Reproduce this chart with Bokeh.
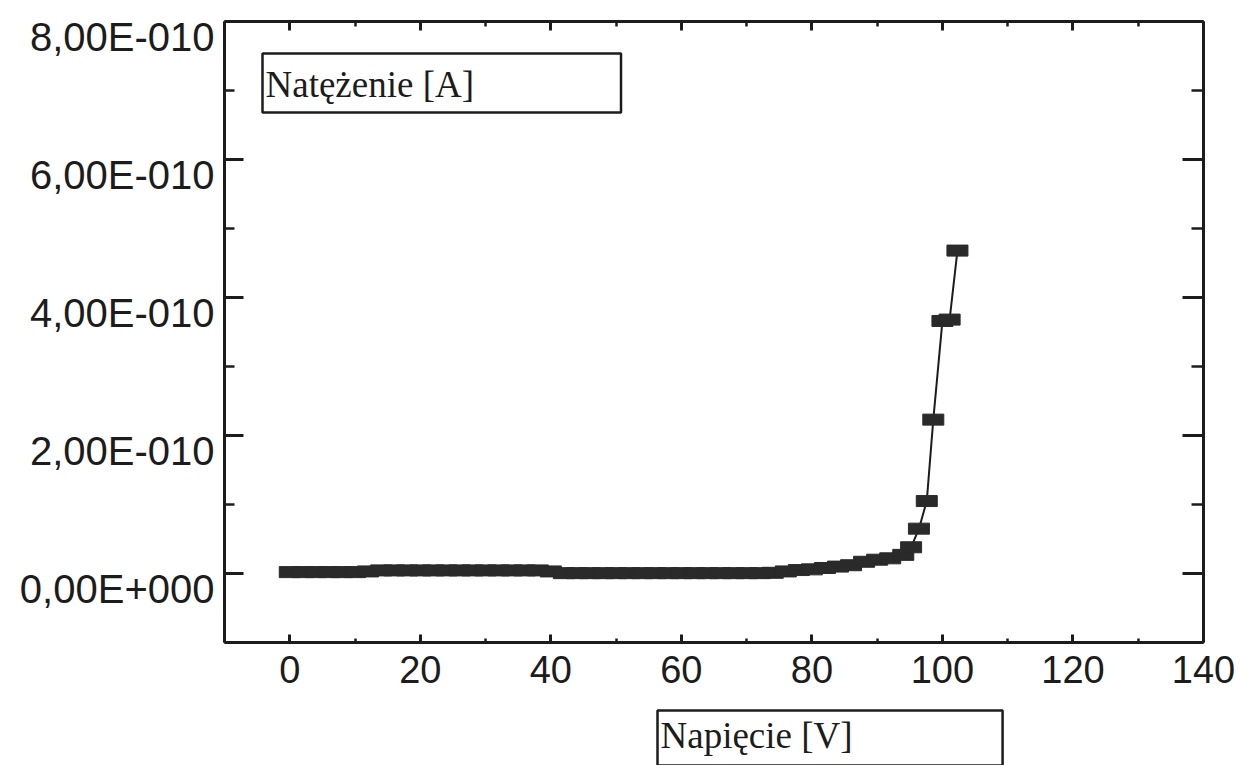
from bokeh.plotting import figure
from bokeh.models import (Range1d, LinearAxis, FixedTicker, Label, Title,
                          ColumnDataSource, CustomJSTickFormatter)
from bokeh.embed import file_html
from bokeh.resources import INLINE

# ---- data ----
voltage = [0, 2, 4, 6, 8, 10, 12, 14, 16, 18, 20, 22, 24, 26, 28, 30, 32, 34, 36, 38,
           40, 42, 44, 46, 48, 50, 52, 54, 56, 58, 60, 62, 64, 66, 68, 70, 72, 74,
           76, 78, 80, 82, 84, 86, 88, 90, 92, 94, 95.2, 96.4, 97.6, 98.6, 100.0,
           101.1, 102.3]
current = [2e-12, 2e-12, 2e-12, 2e-12, 2e-12, 2e-12, 3e-12, 4.5e-12, 4.5e-12, 4.5e-12,
           4.5e-12, 4.5e-12, 4.5e-12, 4.5e-12, 4.5e-12, 4.5e-12, 4.5e-12, 4.5e-12,
           4.5e-12, 4.5e-12, 3e-12, 0.5e-12, 0.5e-12, 0.5e-12, 0.5e-12, 0.5e-12,
           0.5e-12, 0.5e-12, 0.5e-12, 0.5e-12, 0.5e-12, 0.5e-12, 0.5e-12, 0.5e-12,
           0.5e-12, 0.5e-12, 0.5e-12, 1e-12, 3e-12, 5e-12, 6e-12, 8e-12, 10e-12,
           12e-12, 17e-12, 20e-12, 22e-12, 27e-12, 38e-12, 65e-12, 105e-12, 223e-12,
           366e-12, 368e-12, 468e-12]

x_ticks = [0, 20, 40, 60, 80, 100, 120, 140]
x_minor = [-10, 10, 30, 50, 70, 90, 110, 130]
y_ticks = [0.0, 2e-10, 4e-10, 6e-10, 8e-10]
y_minor = [-1e-10, 1e-10, 3e-10, 5e-10, 7e-10]
y_tick_labels = ["0,00E+000", "2,00E-010", "4,00E-010", "6,00E-010", "8,00E-010"]
x_title = "Napięcie [V]"
y_title = "Natężenie [A]"

INK = "#1c1c1c"
X0, X1 = -10, 140
Y0, Y1 = -1e-10, 8e-10
W, H = 1240, 765
BL, BR, BT, BB = 224, 37, 21, 123
FRAME_H = H - BT - BB
LABEL_DROP_PX = 15          # the scanned tick labels sit a little below their ticks
shift = LABEL_DROP_PX * (Y1 - Y0) / FRAME_H

p = figure(width=W, height=H, output_backend="svg", toolbar_location=None,
           x_range=Range1d(X0, X1), y_range=Range1d(Y0, Y1),
           x_axis_location=None, y_axis_location=None,
           min_border_left=BL, min_border_right=BR, min_border_top=BT,
           min_border_bottom=BB)
p.extra_y_ranges = {"ylab": Range1d(Y0 + shift, Y1 + shift)}
p.outline_line_color = None
p.xgrid.visible = False
p.ygrid.visible = False
p.background_fill_color = "white"
p.border_fill_color = "white"

blank = CustomJSTickFormatter(code="return ''")


def style_axis(ax, tin, minin):
    ax.axis_line_color = INK
    ax.axis_line_width = 3
    ax.major_tick_line_color = INK
    ax.minor_tick_line_color = INK
    ax.major_tick_line_width = 3
    ax.minor_tick_line_width = 2.5
    ax.major_tick_in = tin
    ax.major_tick_out = 0
    ax.minor_tick_in = minin
    ax.minor_tick_out = 0


# bottom axis with labels (a blank axis label only reserves room above the boxed title)
xb = LinearAxis(ticker=FixedTicker(ticks=x_ticks, minor_ticks=x_minor))
style_axis(xb, 8, 4)
xb.major_label_text_font = "Liberation Sans"
xb.major_label_text_font_size = "38px"
xb.major_label_text_color = INK
xb.major_label_standoff = 13
xb.axis_label = " "
xb.axis_label_standoff = 3
xb.axis_label_text_font_size = "16px"
p.add_layout(xb, "below")

# top axis, ticks only
xt = LinearAxis(ticker=FixedTicker(ticks=x_ticks, minor_ticks=x_minor), formatter=blank)
style_axis(xt, 9, 5)
xt.major_label_standoff = 0
p.add_layout(xt, "above")

# left axis, ticks only
yl = LinearAxis(ticker=FixedTicker(ticks=y_ticks, minor_ticks=y_minor), formatter=blank)
style_axis(yl, 19, 10)
yl.major_label_standoff = 0
p.add_layout(yl, "left")

# left labels (on a range shifted so they sit slightly below the ticks)
ylab = LinearAxis(y_range_name="ylab",
                  ticker=FixedTicker(ticks=y_ticks, minor_ticks=[]),
                  major_label_overrides={t: s for t, s in zip(y_ticks, y_tick_labels)})
ylab.axis_line_color = None
ylab.major_tick_line_color = None
ylab.minor_tick_line_color = None
ylab.major_tick_in = 0
ylab.major_tick_out = 0
ylab.minor_tick_in = 0
ylab.minor_tick_out = 0
ylab.major_label_standoff = 10
ylab.major_label_text_font = "Liberation Sans"
ylab.major_label_text_font_size = "40px"
ylab.major_label_text_color = INK
p.add_layout(ylab, "left")

# right axis, ticks only
yr = LinearAxis(ticker=FixedTicker(ticks=y_ticks, minor_ticks=y_minor), formatter=blank)
style_axis(yr, 21, 12)
yr.major_label_standoff = 0
p.add_layout(yr, "right")

# data
src = ColumnDataSource(dict(v=voltage, i=current))
p.line("v", "i", source=src, line_color=INK, line_width=2)
p.rect("v", "i", width=21, height=11, width_units="screen", height_units="screen",
       source=src, fill_color="#2a2a2a", line_color="#2a2a2a")

# boxed titles
p.add_layout(Label(x=38, y=589, x_units="screen", y_units="screen", text=y_title,
                   text_font="Liberation Serif", text_font_size="37px",
                   text_color=INK, anchor="top_left",
                   padding=dict(left=3, right=147, top=10, bottom=8),
                   border_line_color=INK, border_line_width=2.5,
                   background_fill_color="white"))
p.add_layout(Title(text=x_title, align="left", offset=433, standoff=0,
                   text_font="Liberation Serif", text_font_size="37px",
                   text_font_style="normal", text_color=INK,
                   padding=dict(left=3, right=150, top=4, bottom=10),
                   border_line_color=INK, border_line_width=2.5,
                   background_fill_color="white"), "below")

open("out.html", "w").write(file_html(p, INLINE))
